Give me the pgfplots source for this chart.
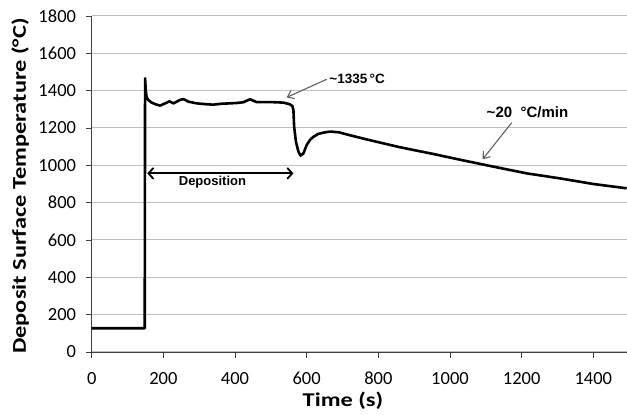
\documentclass[border=0pt]{standalone}
\usepackage{fontspec}
\setmainfont{Carlito}
\newfontfamily\labfont{Carlito}[FakeStretch=1.25]
\newfontfamily\annfont{Liberation Sans}
\usepackage{pgfplots}
\pgfplotsset{compat=1.18}
\usetikzlibrary{calc,arrows.meta}
\definecolor{gridgray}{HTML}{BFBFBF}
\definecolor{arrgray}{HTML}{606060}
\definecolor{axgray}{HTML}{404040}
\begin{document}
\begin{tikzpicture}
\begin{axis}[
  scale only axis,
  width=535.3pt, height=336pt,
  xmin=0, xmax=1494, ymin=0, ymax=1800,
  axis x line=bottom, axis y line=left,
  axis line style={-, axgray, line width=0.9pt},
  xtick={0,200,...,1400}, ytick={0,200,...,1800},
  tick align=outside, major tick length=5.5pt,
  tick style={axgray, line width=0.8pt},
  ymajorgrids, grid style={gridgray, line width=1pt},
  /pgf/number format/assume math mode=true,
  /pgf/number format/1000 sep={},
  tick label style={font=\fontsize{18.5}{20}\selectfont, inner sep=0pt},
  xticklabel style={anchor=base, yshift=-27.3pt},
  yticklabel style={anchor=east, xshift=-10pt},
  xlabel={Time (s)},
  ylabel={Deposit Surface Temperature (°C)},
  label style={font=\labfont\bfseries\fontsize{19.5}{21}\selectfont, inner sep=0pt},
  xlabel style={at={($(rel axis cs:0.4695,0)+(0pt,-54.7pt)$)}, anchor=base},
  ylabel style={at={($(rel axis cs:0,0.494)+(-65.7pt,0pt)$)}, anchor=base, rotate=0},
  clip mode=individual,
]
\addplot[black, line width=2.6pt, line join=round] coordinates {
(0,127) (148,127) (149,1466) (151,1400) (153,1368) (158,1350) (167,1336)
(180,1326) (191,1320) (205,1332) (217,1343) (228,1332) (246,1350) (256,1355)
(270,1341) (293,1332) (315,1328) (339,1325) (362,1330) (386,1332) (405,1334)
(423,1338) (442,1354) (460,1339) (498,1339) (535,1336) (553,1327) (560,1318)
(563,1296) (565,1207) (570,1127) (577,1073) (583,1052) (591,1064) (600,1109)
(610,1138) (619,1153) (632,1168) (646,1175) (665,1181) (690,1177) (721,1161)
(767,1139) (860,1097) (953,1061) (1028,1030) (1121,993) (1214,957) (1307,930)
(1400,900) (1493,877)
};
% annotations
\draw[arrgray, line width=1.1pt, -{Straight Barb[length=6pt,width=9pt]}]
  (axis cs:656,1461) -- (axis cs:544,1364);
\node[anchor=west, inner sep=0pt, font=\annfont\bfseries\fontsize{13.5}{15}\selectfont]
  at (axis cs:663,1464) {\textasciitilde1335\,°C};
\draw[arrgray, line width=1.1pt, -{Straight Barb[length=6pt,width=9pt]}]
  (axis cs:1172,1228) -- (axis cs:1091,1032);
\node[anchor=west, inner sep=0pt, font=\annfont\bfseries\fontsize{15}{17}\selectfont]
  at (axis cs:1102,1287) {\textasciitilde20\ \ °C/min};
\draw[black, line width=1.8pt, {Straight Barb[length=5pt,width=11pt]}-{Straight Barb[length=5pt,width=11pt]}]
  (axis cs:155,957) -- (axis cs:563,957);
\node[inner sep=0pt, font=\annfont\bfseries\fontsize{13}{15}\selectfont]
  at (axis cs:337,912) {Deposition};
\end{axis}
\pgfresetboundingbox
\path[use as bounding box] ([shift={(-91.7pt,-63pt)}]current axis.south west) rectangle ([shift={(0pt,16pt)}]current axis.north east);
\end{tikzpicture}
\end{document}
